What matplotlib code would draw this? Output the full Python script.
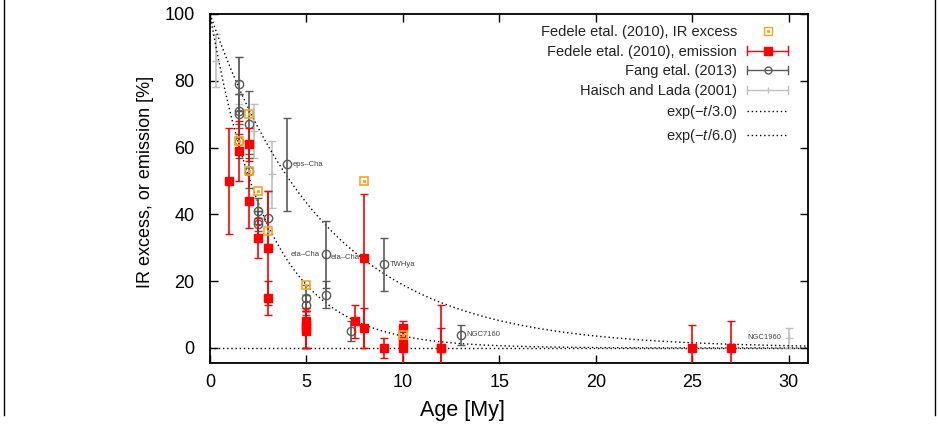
import numpy as np
import matplotlib
matplotlib.use("Agg")
import matplotlib.pyplot as plt
from matplotlib.lines import Line2D
from matplotlib.legend_handler import HandlerBase

plt.rcParams['font.family'] = ['Liberation Sans', 'DejaVu Sans']
plt.rcParams['mathtext.fontset'] = 'custom'
plt.rcParams['mathtext.rm'] = 'Liberation Sans'
plt.rcParams['mathtext.it'] = 'Liberation Sans:italic'

# ---------------- data ----------------
# Fedele et al. (2010), IR excess
ir_age = [1.5, 2, 2, 2.5, 3, 5, 8, 10]
ir_frac = [62, 70, 53, 47, 35, 19, 50, 4]

# Fedele et al. (2010), emission (accretion)
em_age = [1, 1.5, 2, 2, 2.5, 3, 3, 5, 5, 5, 5, 7.5, 8, 8, 9, 10, 10, 10, 12, 12, 25, 27]
em_frac = [50, 59, 61, 44, 33, 30, 15, 8, 7, 6, 5, 8, 27, 6, 0, 6, 2, 0, 0, 0, 0, 0]
em_lo = [16, 9, 5, 8, 6, 17, 5, 8, 7, 6, 5, 5, 27, 6, 3, 2, 2, 8, 13, 6, 7, 8]
em_hi = [16, 9, 5, 8, 6, 17, 5, 4, 4, 5, 6, 5, 19, 6, 3, 2, 5, 6, 13, 6, 7, 8]

# Fang et al. (2013)
fang_age = [1.5, 1.5, 1.5, 1.5, 2, 2, 2.5, 2.5, 2.5, 3, 4, 5, 5, 6, 6, 7.3, 9, 13]
fang_frac = [79, 71, 70, 62, 67, 53, 41, 38, 37, 39, 55, 15, 13, 28, 16, 5, 25, 4]
fang_err = [8, 5, 6, 5, 10, 5, 4, 3, 4, 8, 14, 4, 3, 10, 4, 3, 8, 3]

# Haisch and Lada (2001)
hl_age = [0.3, 1.5, 2.3, 3.2, 5, 30]
hl_frac = [86, 80, 65, 52, 12, 3]
hl_err = [8, 7, 8, 10, 4, 3]

# labels of individual clusters
lab_text = ["eps\u2013Cha", "eta\u2013Cha", "eta\u2013Cha", "TWHya", "NGC7160", "NGC1960"]
lab_x = [4.3, 5.7, 6.25, 9.3, 13.3, 29.6]
lab_y = [55, 28, 27, 25, 4, 3]
lab_ha = ["left", "right", "left", "left", "left", "right"]

tau_values = [3.0, 6.0]

# ---------------- figure ----------------
fig = plt.figure(figsize=(9.38, 4.26), dpi=100)
ax = fig.add_axes([210/938, 1-363/426, 598/938, 349/426])

red = '#ff0000'
orange = '#f5a623'
fgray = '#5a5a5a'
lgray = '#c0c0c0'

ax.axhline(0, color='black', lw=1.0, ls=(0, (1, 2)), zorder=1)

ax.errorbar(hl_age, hl_frac, yerr=hl_err, fmt='+', color=lgray, ecolor=lgray,
            ms=6, mew=1.0, elinewidth=1.2, capsize=3, capthick=1.0, zorder=2)
ax.errorbar(fang_age, fang_frac, yerr=fang_err, fmt='o', color=fgray, mfc='none',
            ecolor=fgray, ms=6, mew=1.0, elinewidth=1.2, capsize=3, capthick=1.0, zorder=3)
ax.errorbar(em_age, em_frac, yerr=[em_lo, em_hi], fmt='s', color=red, mfc=red, mec=red,
            ecolor=red, ms=5.5, elinewidth=1.2, capsize=3, capthick=1.0, zorder=4)
ax.plot(ir_age, ir_frac, ls='none', marker='s', mfc='none', mec=orange, ms=6, mew=1.2, zorder=5)
ax.plot(ir_age, ir_frac, ls='none', marker='s', mfc=orange, mec=orange, ms=1.2, zorder=5)

t = np.linspace(0, 31, 400)
for tau in tau_values:
    ax.plot(t, 100*np.exp(-t/tau), color='black', lw=1.0, ls=(0, (1, 2)), zorder=2)

for s, x, y, ha in zip(lab_text, lab_x, lab_y, lab_ha):
    ax.text(x, y, s, fontsize=5.5, color='#444444', ha=ha, va='center', zorder=6)

ax.set_xlim(0, 31)
ax.set_ylim(-4.5, 100)
ax.set_xticks(range(0, 31, 5))
ax.set_yticks(range(0, 101, 20))
ax.tick_params(direction='in', top=True, right=True, length=6, width=1.0,
               labelsize=13)
ax.tick_params(axis='y', pad=11)
ax.tick_params(axis='x', pad=8)
for sp in ax.spines.values():
    sp.set_linewidth(1.3)

ax.set_xlabel('Age [My]', fontsize=15.5)
ax.set_ylabel('IR excess, or emission [%]', fontsize=13)
ax.xaxis.set_label_coords(0.422, -0.105)
ax.yaxis.set_label_coords(-0.093, 0.52)


class GPHandler(HandlerBase):
    def __init__(self, color, marker=None, mfc=None, ms=5, caps=True, ls='-'):
        super().__init__()
        self.c = color; self.m = marker; self.mfc = mfc; self.ms = ms
        self.caps = caps; self.ls = ls

    def create_artists(self, legend, orig_handle, xdescent, ydescent, width,
                       height, fontsize, trans):
        y = height/2 - ydescent
        x0, x1 = -xdescent, width - xdescent
        arts = []
        if self.ls is not None:
            arts.append(Line2D([x0, x1], [y, y], color=self.c, lw=1.0,
                               ls=self.ls, transform=trans))
        if self.caps:
            h = 3.0
            arts.append(Line2D([x0, x0], [y-h, y+h], color=self.c, lw=1.0, transform=trans))
            arts.append(Line2D([x1, x1], [y-h, y+h], color=self.c, lw=1.0, transform=trans))
        if self.m is not None:
            xm = (x0 + x1)/2
            arts.append(Line2D([xm], [y], marker=self.m, mfc=self.mfc, mec=self.c,
                               ms=self.ms, mew=1.0, ls='none', transform=trans))
            if self.m == 's' and self.mfc == 'none':
                arts.append(Line2D([xm], [y], marker='s', mfc=self.c, mec=self.c,
                                   ms=1.2, ls='none', transform=trans))
        return arts


h1, h2, h3, h4, h5, h6 = [Line2D([], []) for _ in range(6)]
labels = ['Fedele etal. (2010), IR excess', 'Fedele etal. (2010), emission',
          'Fang etal. (2013)', 'Haisch and Lada (2001)',
          r'$\mathrm{exp}(-t/3.0)$', r'$\mathrm{exp}(-t/6.0)$']
hmap = {
    h1: GPHandler(orange, 's', 'none', 6, caps=False, ls=None),
    h2: GPHandler(red, 's', red, 6),
    h3: GPHandler(fgray, 'o', 'none', 5),
    h4: GPHandler(lgray, '|', lgray, 5),
    h5: GPHandler('black', None, caps=False, ls=(0, (1, 2))),
    h6: GPHandler('black', None, caps=False, ls=(0, (1, 2))),
}
leg = ax.legend([h1, h2, h3, h4, h5, h6], labels, handler_map=hmap,
                loc='upper right', bbox_to_anchor=(0.9666, 0.968),
                frameon=False, markerfirst=False, fontsize=10.5,
                handlelength=2.8, handletextpad=0.7, labelspacing=0.38,
                borderpad=0, borderaxespad=0)
for txt in leg.get_texts():
    txt.set_color('#222222')

# page border lines
fig.add_artist(Line2D([4/938, 4/938], [1-415/426, 1], color='black', lw=1.0))
fig.add_artist(Line2D([935/938, 935/938], [1-415/426, 1], color='black', lw=1.0))

fig.savefig('out.png', dpi=100)
